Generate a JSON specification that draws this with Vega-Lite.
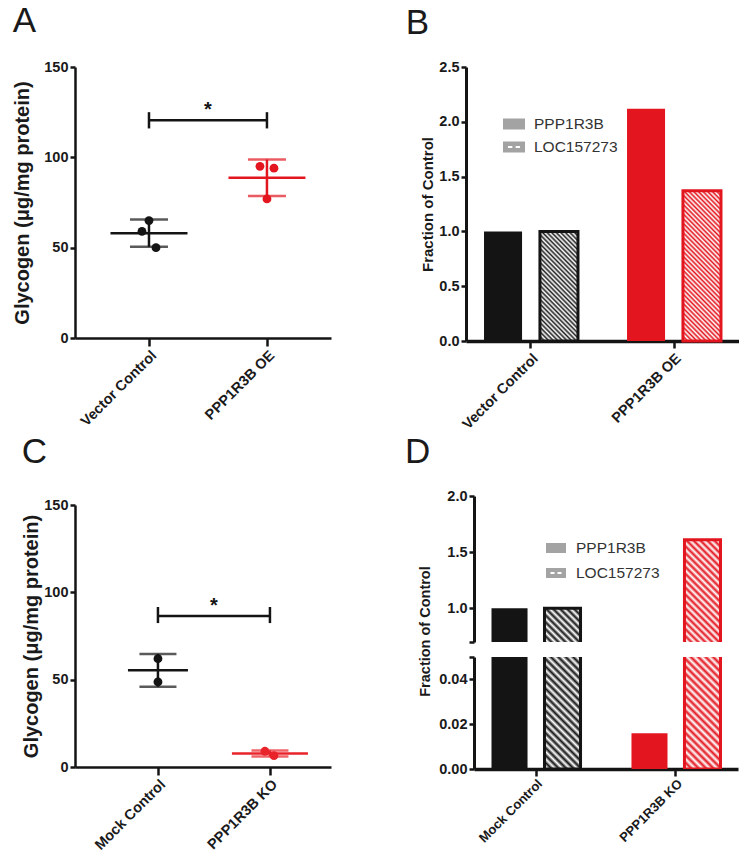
{
"$schema": "https://vega.github.io/schema/vega-lite/v6.json",
"background": "white",
"padding": {"left": 12, "top": 3, "right": 0, "bottom": 0},
"config": {
 "view": {"stroke": null},
 "font": "Liberation Sans",
 "axis": {"domainColor": "#141414", "tickColor": "#141414", "domainWidth": 2.5, "tickWidth": 2.5, "labelFont": "Liberation Sans", "labelFontSize": 14.5, "labelFontWeight": "bold", "labelColor": "#1a1a1a", "titleFont": "Liberation Sans", "titleFontWeight": "bold", "titleColor": "#1a1a1a", "grid": false},
 "title": {"font": "Liberation Sans", "fontSize": 35, "fontWeight": "normal", "anchor": "start", "color": "#1a1a1a", "frame": "bounds"},
 "legend": {"labelFont": "Liberation Sans", "labelFontSize": 15.5, "labelColor": "#333333"}
},
"resolve": {"scale": {"color": "independent", "fill": "independent", "stroke": "independent", "opacity": "independent", "xOffset": "independent"}},
"columns": 2,
"align": "none",
"bounds": "full",
"spacing": {"row": 3, "column": 74},
"concat": [
 {
  "width": 256, "height": 271,
  "title": {"text": "A", "offset": 20.5},
  "data": {"values": [
   {"cond": "Vector Control", "rep": 1, "value": 59},
   {"cond": "Vector Control", "rep": 2, "value": 65},
   {"cond": "Vector Control", "rep": 3, "value": 50},
   {"cond": "PPP1R3B OE", "rep": 1, "value": 95},
   {"cond": "PPP1R3B OE", "rep": 2, "value": 77},
   {"cond": "PPP1R3B OE", "rep": 3, "value": 94}
  ]},
  "layer": [
   {
    "mark": {"type": "errorbar", "extent": "stdev", "ticks": {"size": 38, "thickness": 2.5}, "rule": {"strokeWidth": 2.5}},
    "encoding": {
     "x": {"field": "cond", "type": "nominal", "title": null, "scale": {"type": "point", "domain": ["Vector Control", "PPP1R3B OE"], "padding": 0.585, "align": 0.536}, "axis": {"labelAngle": -45, "tickSize": 8, "labelPadding": 2}},
     "y": {"field": "value", "type": "quantitative", "title": "Glycogen (μg/mg protein)", "scale": {"domain": [0, 150]}, "axis": {"values": [0, 50, 100, 150], "tickSize": 5, "labelPadding": 2, "titlePadding": 11, "titleFontSize": 20}},
     "color": {"field": "cond", "type": "nominal", "scale": {"domain": ["Vector Control", "PPP1R3B OE"], "range": ["#141414", "#e3161f"]}, "legend": null}
    }
   },
   {
    "mark": {"type": "tick", "size": 77, "thickness": 2.5},
    "encoding": {
     "x": {"field": "cond", "type": "nominal", "title": null, "scale": {"type": "point", "domain": ["Vector Control", "PPP1R3B OE"], "padding": 0.585, "align": 0.536}},
     "y": {"aggregate": "mean", "field": "value", "type": "quantitative", "title": "Glycogen (μg/mg protein)", "scale": {"domain": [0, 150]}},
     "color": {"field": "cond", "type": "nominal", "scale": {"domain": ["Vector Control", "PPP1R3B OE"], "range": ["#141414", "#e3161f"]}, "legend": null}
    }
   },
   {
    "mark": {"type": "circle", "size": 78, "opacity": 1},
    "encoding": {
     "x": {"field": "cond", "type": "nominal", "title": null, "scale": {"type": "point", "domain": ["Vector Control", "PPP1R3B OE"], "padding": 0.585, "align": 0.536}},
     "xOffset": {"field": "rep", "type": "quantitative", "scale": {"domain": [1, 3], "range": [-7, 7]}},
     "y": {"field": "value", "type": "quantitative", "title": "Glycogen (μg/mg protein)", "scale": {"domain": [0, 150]}},
     "color": {"field": "cond", "type": "nominal", "scale": {"domain": ["Vector Control", "PPP1R3B OE"], "range": ["#141414", "#e3161f"]}, "legend": null}
    }
   },
   {
    "data": {"values": [{"a": "Vector Control", "b": "PPP1R3B OE", "value": 120.5}]},
    "mark": {"type": "rule", "strokeWidth": 2.5, "color": "#141414"},
    "encoding": {
     "x": {"field": "a", "type": "nominal", "title": null, "scale": {"type": "point", "domain": ["Vector Control", "PPP1R3B OE"], "padding": 0.585, "align": 0.536}},
     "x2": {"field": "b"},
     "y": {"field": "value", "type": "quantitative", "title": "Glycogen (μg/mg protein)", "scale": {"domain": [0, 150]}}
    }
   },
   {
    "data": {"values": [{"cond": "Vector Control", "lo": 116, "hi": 125}, {"cond": "PPP1R3B OE", "lo": 116, "hi": 125}]},
    "mark": {"type": "rule", "strokeWidth": 2.5, "color": "#141414"},
    "encoding": {
     "x": {"field": "cond", "type": "nominal", "title": null, "scale": {"type": "point", "domain": ["Vector Control", "PPP1R3B OE"], "padding": 0.585, "align": 0.536}},
     "y": {"field": "lo", "type": "quantitative", "title": "Glycogen (μg/mg protein)", "scale": {"domain": [0, 150]}},
     "y2": {"field": "hi"}
    }
   },
   {
    "data": {"values": [{"a": "Vector Control", "value": 126, "label": "*"}]},
    "mark": {"type": "text", "dx": 59, "fontSize": 20, "fontWeight": "bold", "color": "#141414", "baseline": "middle"},
    "encoding": {
     "x": {"field": "a", "type": "nominal", "title": null, "scale": {"type": "point", "domain": ["Vector Control", "PPP1R3B OE"], "padding": 0.585, "align": 0.536}},
     "y": {"field": "value", "type": "quantitative", "title": "Glycogen (μg/mg protein)", "scale": {"domain": [0, 150]}},
     "text": {"field": "label"}
    }
   }
  ]
 },
 {
  "width": 273, "height": 274,
  "title": {"text": "B", "offset": 18.5, "dx": -15},
  "data": {"values": [
   {"cond": "Vector Control", "gene": "PPP1R3B", "value": 1.0},
   {"cond": "Vector Control", "gene": "LOC157273", "value": 1.0},
   {"cond": "PPP1R3B OE", "gene": "PPP1R3B", "value": 2.12},
   {"cond": "PPP1R3B OE", "gene": "LOC157273", "value": 1.37}
  ]},
  "encoding": {
   "x": {"field": "cond", "type": "nominal", "title": null, "scale": {"domain": ["Vector Control", "PPP1R3B OE"], "paddingInner": 0.343, "paddingOuter": 0.126}, "axis": {"labelAngle": -45, "tickSize": 7, "domainWidth": 3.5, "labelPadding": 3}},
   "xOffset": {"field": "gene", "type": "nominal", "scale": {"domain": ["PPP1R3B", "LOC157273"], "paddingInner": 0.32, "paddingOuter": 0}},
   "y": {"field": "value", "type": "quantitative", "title": "Fraction of Control", "scale": {"domain": [0, 2.5]}, "axis": {"values": [0, 0.5, 1, 1.5, 2, 2.5], "format": ".1f", "tickSize": 5, "domainWidth": 3, "titleFontSize": 15, "titlePadding": 3}}
  },
  "layer": [
   {
    "transform": [{"filter": "datum.gene === 'PPP1R3B'"}],
    "mark": {"type": "bar"},
    "encoding": {
     "fill": {"field": "cond", "type": "nominal", "scale": {"domain": ["Vector Control", "PPP1R3B OE"], "range": ["#141414", "#e3161f"]}, "legend": null},
     "opacity": {"field": "gene", "type": "ordinal", "scale": {"domain": ["PPP1R3B", "LOC157273"], "range": [1, 1]}, "legend": {"title": null, "orient": "none", "legendX": 37, "legendY": 46, "symbolType": "M-1,-0.5H1V0.5H-1Z", "symbolSize": 484, "symbolStrokeWidth": 0, "symbolFillColor": "#a3a3a3", "rowPadding": 3, "labelOffset": 9, "encode": {"symbols": {"update": {"shape": {"signal": "datum.value === 'LOC157273' ? 'M-1,-0.5H1V0.5H-1Z M-0.55,-0.09V0.09H-0.15V-0.09Z M0.15,-0.09V0.09H0.55V-0.09Z' : 'M-1,-0.5H1V0.5H-1Z'"}, "fill": {"value": "#a3a3a3"}, "opacity": {"value": 1}}}}}}
    }
   },
   {
    "transform": [{"filter": "datum.gene === 'LOC157273' && datum.cond === 'Vector Control'"}],
    "mark": {"type": "bar", "stroke": "#141414", "strokeWidth": 3, "fill": {"gradient": "linear", "x1": 0, "y1": 1, "x2": 0.4232, "y2": -0.2028, "stops": [
     {"offset": 0, "color": "#222222"}, {"offset": 0.015625, "color": "#ffffff"}, {"offset": 0.03125, "color": "#222222"}, {"offset": 0.046875, "color": "#ffffff"}, {"offset": 0.0625, "color": "#222222"}, {"offset": 0.078125, "color": "#ffffff"}, {"offset": 0.09375, "color": "#222222"}, {"offset": 0.109375, "color": "#ffffff"}, {"offset": 0.125, "color": "#222222"}, {"offset": 0.140625, "color": "#ffffff"}, {"offset": 0.15625, "color": "#222222"}, {"offset": 0.171875, "color": "#ffffff"}, {"offset": 0.1875, "color": "#222222"}, {"offset": 0.203125, "color": "#ffffff"}, {"offset": 0.21875, "color": "#222222"}, {"offset": 0.234375, "color": "#ffffff"}, {"offset": 0.25, "color": "#222222"}, {"offset": 0.265625, "color": "#ffffff"}, {"offset": 0.28125, "color": "#222222"}, {"offset": 0.296875, "color": "#ffffff"}, {"offset": 0.3125, "color": "#222222"}, {"offset": 0.328125, "color": "#ffffff"}, {"offset": 0.34375, "color": "#222222"}, {"offset": 0.359375, "color": "#ffffff"}, {"offset": 0.375, "color": "#222222"}, {"offset": 0.390625, "color": "#ffffff"}, {"offset": 0.40625, "color": "#222222"}, {"offset": 0.421875, "color": "#ffffff"}, {"offset": 0.4375, "color": "#222222"}, {"offset": 0.453125, "color": "#ffffff"}, {"offset": 0.46875, "color": "#222222"}, {"offset": 0.484375, "color": "#ffffff"}, {"offset": 0.5, "color": "#222222"}, {"offset": 0.515625, "color": "#ffffff"}, {"offset": 0.53125, "color": "#222222"}, {"offset": 0.546875, "color": "#ffffff"}, {"offset": 0.5625, "color": "#222222"}, {"offset": 0.578125, "color": "#ffffff"}, {"offset": 0.59375, "color": "#222222"}, {"offset": 0.609375, "color": "#ffffff"}, {"offset": 0.625, "color": "#222222"}, {"offset": 0.640625, "color": "#ffffff"}, {"offset": 0.65625, "color": "#222222"}, {"offset": 0.671875, "color": "#ffffff"}, {"offset": 0.6875, "color": "#222222"}, {"offset": 0.703125, "color": "#ffffff"}, {"offset": 0.71875, "color": "#222222"}, {"offset": 0.734375, "color": "#ffffff"}, {"offset": 0.75, "color": "#222222"}, {"offset": 0.765625, "color": "#ffffff"}, {"offset": 0.78125, "color": "#222222"}, {"offset": 0.796875, "color": "#ffffff"}, {"offset": 0.8125, "color": "#222222"}, {"offset": 0.828125, "color": "#ffffff"}, {"offset": 0.84375, "color": "#222222"}, {"offset": 0.859375, "color": "#ffffff"}, {"offset": 0.875, "color": "#222222"}, {"offset": 0.890625, "color": "#ffffff"}, {"offset": 0.90625, "color": "#222222"}, {"offset": 0.921875, "color": "#ffffff"}, {"offset": 0.9375, "color": "#222222"}, {"offset": 0.953125, "color": "#ffffff"}, {"offset": 0.96875, "color": "#222222"}, {"offset": 0.984375, "color": "#ffffff"}, {"offset": 1, "color": "#222222"}
    ]}}
   },
   {
    "transform": [{"filter": "datum.gene === 'LOC157273' && datum.cond === 'PPP1R3B OE'"}],
    "mark": {"type": "bar", "stroke": "#e3161f", "strokeWidth": 3, "fill": {"gradient": "linear", "x1": 0, "y1": 1, "x2": 0.3027, "y2": -0.179, "stops": [
     {"offset": 0, "color": "#e3161f"}, {"offset": 0.0125, "color": "#ffffff"}, {"offset": 0.025, "color": "#e3161f"}, {"offset": 0.0375, "color": "#ffffff"}, {"offset": 0.05, "color": "#e3161f"}, {"offset": 0.0625, "color": "#ffffff"}, {"offset": 0.075, "color": "#e3161f"}, {"offset": 0.0875, "color": "#ffffff"}, {"offset": 0.1, "color": "#e3161f"}, {"offset": 0.1125, "color": "#ffffff"}, {"offset": 0.125, "color": "#e3161f"}, {"offset": 0.1375, "color": "#ffffff"}, {"offset": 0.15, "color": "#e3161f"}, {"offset": 0.1625, "color": "#ffffff"}, {"offset": 0.175, "color": "#e3161f"}, {"offset": 0.1875, "color": "#ffffff"}, {"offset": 0.2, "color": "#e3161f"}, {"offset": 0.2125, "color": "#ffffff"}, {"offset": 0.225, "color": "#e3161f"}, {"offset": 0.2375, "color": "#ffffff"}, {"offset": 0.25, "color": "#e3161f"}, {"offset": 0.2625, "color": "#ffffff"}, {"offset": 0.275, "color": "#e3161f"}, {"offset": 0.2875, "color": "#ffffff"}, {"offset": 0.3, "color": "#e3161f"}, {"offset": 0.3125, "color": "#ffffff"}, {"offset": 0.325, "color": "#e3161f"}, {"offset": 0.3375, "color": "#ffffff"}, {"offset": 0.35, "color": "#e3161f"}, {"offset": 0.3625, "color": "#ffffff"}, {"offset": 0.375, "color": "#e3161f"}, {"offset": 0.3875, "color": "#ffffff"}, {"offset": 0.4, "color": "#e3161f"}, {"offset": 0.4125, "color": "#ffffff"}, {"offset": 0.425, "color": "#e3161f"}, {"offset": 0.4375, "color": "#ffffff"}, {"offset": 0.45, "color": "#e3161f"}, {"offset": 0.4625, "color": "#ffffff"}, {"offset": 0.475, "color": "#e3161f"}, {"offset": 0.4875, "color": "#ffffff"}, {"offset": 0.5, "color": "#e3161f"}, {"offset": 0.5125, "color": "#ffffff"}, {"offset": 0.525, "color": "#e3161f"}, {"offset": 0.5375, "color": "#ffffff"}, {"offset": 0.55, "color": "#e3161f"}, {"offset": 0.5625, "color": "#ffffff"}, {"offset": 0.575, "color": "#e3161f"}, {"offset": 0.5875, "color": "#ffffff"}, {"offset": 0.6, "color": "#e3161f"}, {"offset": 0.6125, "color": "#ffffff"}, {"offset": 0.625, "color": "#e3161f"}, {"offset": 0.6375, "color": "#ffffff"}, {"offset": 0.65, "color": "#e3161f"}, {"offset": 0.6625, "color": "#ffffff"}, {"offset": 0.675, "color": "#e3161f"}, {"offset": 0.6875, "color": "#ffffff"}, {"offset": 0.7, "color": "#e3161f"}, {"offset": 0.7125, "color": "#ffffff"}, {"offset": 0.725, "color": "#e3161f"}, {"offset": 0.7375, "color": "#ffffff"}, {"offset": 0.75, "color": "#e3161f"}, {"offset": 0.7625, "color": "#ffffff"}, {"offset": 0.775, "color": "#e3161f"}, {"offset": 0.7875, "color": "#ffffff"}, {"offset": 0.8, "color": "#e3161f"}, {"offset": 0.8125, "color": "#ffffff"}, {"offset": 0.825, "color": "#e3161f"}, {"offset": 0.8375, "color": "#ffffff"}, {"offset": 0.85, "color": "#e3161f"}, {"offset": 0.8625, "color": "#ffffff"}, {"offset": 0.875, "color": "#e3161f"}, {"offset": 0.8875, "color": "#ffffff"}, {"offset": 0.9, "color": "#e3161f"}, {"offset": 0.9125, "color": "#ffffff"}, {"offset": 0.925, "color": "#e3161f"}, {"offset": 0.9375, "color": "#ffffff"}, {"offset": 0.95, "color": "#e3161f"}, {"offset": 0.9625, "color": "#ffffff"}, {"offset": 0.975, "color": "#e3161f"}, {"offset": 0.9875, "color": "#ffffff"}, {"offset": 1, "color": "#e3161f"}
    ]}}
   }
  ]
 },
 {
  "width": 256, "height": 262,
  "title": {"text": "C", "offset": 27},
  "data": {"values": [
   {"cond": "Mock Control", "rep": 1, "value": 62},
   {"cond": "Mock Control", "rep": 2, "value": 48.7},
   {"cond": "PPP1R3B KO", "rep": 1, "value": 9},
   {"cond": "PPP1R3B KO", "rep": 2, "value": 6.5}
  ]},
  "layer": [
   {
    "mark": {"type": "errorbar", "extent": "stdev", "ticks": {"size": 37, "thickness": 2.5}, "rule": {"strokeWidth": 2.5}},
    "encoding": {
     "x": {"field": "cond", "type": "nominal", "title": null, "scale": {"type": "point", "domain": ["Mock Control", "PPP1R3B KO"], "padding": 0.643, "align": 0.576}, "axis": {"labelAngle": -45, "tickSize": 8, "labelPadding": 2}},
     "y": {"field": "value", "type": "quantitative", "title": "Glycogen (μg/mg protein)", "scale": {"domain": [0, 150]}, "axis": {"values": [0, 50, 100, 150], "tickSize": 5, "labelPadding": 2, "titlePadding": 2, "titleFontSize": 20}},
     "color": {"field": "cond", "type": "nominal", "scale": {"domain": ["Mock Control", "PPP1R3B KO"], "range": ["#141414", "#e8232a"]}, "legend": null}
    }
   },
   {
    "transform": [{"filter": "datum.cond === 'Mock Control'"}],
    "mark": {"type": "tick", "size": 60, "thickness": 2.5},
    "encoding": {
     "x": {"field": "cond", "type": "nominal", "title": null, "scale": {"type": "point", "domain": ["Mock Control", "PPP1R3B KO"], "padding": 0.643, "align": 0.576}},
     "y": {"aggregate": "mean", "field": "value", "type": "quantitative", "title": "Glycogen (μg/mg protein)", "scale": {"domain": [0, 150]}},
     "color": {"field": "cond", "type": "nominal", "scale": {"domain": ["Mock Control", "PPP1R3B KO"], "range": ["#141414", "#e8232a"]}, "legend": null}
    }
   },
   {
    "transform": [{"filter": "datum.cond === 'PPP1R3B KO'"}],
    "mark": {"type": "tick", "size": 76, "thickness": 2.5},
    "encoding": {
     "x": {"field": "cond", "type": "nominal", "title": null, "scale": {"type": "point", "domain": ["Mock Control", "PPP1R3B KO"], "padding": 0.643, "align": 0.576}},
     "y": {"aggregate": "mean", "field": "value", "type": "quantitative", "title": "Glycogen (μg/mg protein)", "scale": {"domain": [0, 150]}},
     "color": {"field": "cond", "type": "nominal", "scale": {"domain": ["Mock Control", "PPP1R3B KO"], "range": ["#141414", "#e8232a"]}, "legend": null}
    }
   },
   {
    "transform": [{"filter": "datum.cond === 'Mock Control'"}],
    "mark": {"type": "circle", "size": 78, "opacity": 1},
    "encoding": {
     "x": {"field": "cond", "type": "nominal", "title": null, "scale": {"type": "point", "domain": ["Mock Control", "PPP1R3B KO"], "padding": 0.643, "align": 0.576}},
     "y": {"field": "value", "type": "quantitative", "title": "Glycogen (μg/mg protein)", "scale": {"domain": [0, 150]}},
     "color": {"field": "cond", "type": "nominal", "scale": {"domain": ["Mock Control", "PPP1R3B KO"], "range": ["#141414", "#e8232a"]}, "legend": null}
    }
   },
   {
    "transform": [{"filter": "datum.cond === 'PPP1R3B KO'"}],
    "mark": {"type": "circle", "size": 78, "opacity": 1},
    "encoding": {
     "x": {"field": "cond", "type": "nominal", "title": null, "scale": {"type": "point", "domain": ["Mock Control", "PPP1R3B KO"], "padding": 0.643, "align": 0.576}},
     "xOffset": {"field": "rep", "type": "quantitative", "scale": {"domain": [1, 2], "range": [-5, 4]}},
     "y": {"field": "value", "type": "quantitative", "title": "Glycogen (μg/mg protein)", "scale": {"domain": [0, 150]}},
     "color": {"field": "cond", "type": "nominal", "scale": {"domain": ["Mock Control", "PPP1R3B KO"], "range": ["#141414", "#e8232a"]}, "legend": null}
    }
   },
   {
    "data": {"values": [{"a": "Mock Control", "b": "PPP1R3B KO", "value": 86.5}]},
    "mark": {"type": "rule", "strokeWidth": 2.5, "color": "#141414"},
    "encoding": {
     "x": {"field": "a", "type": "nominal", "title": null, "scale": {"type": "point", "domain": ["Mock Control", "PPP1R3B KO"], "padding": 0.643, "align": 0.576}},
     "x2": {"field": "b"},
     "y": {"field": "value", "type": "quantitative", "title": "Glycogen (μg/mg protein)", "scale": {"domain": [0, 150]}}
    }
   },
   {
    "data": {"values": [{"cond": "Mock Control", "lo": 82.4, "hi": 91.6}, {"cond": "PPP1R3B KO", "lo": 82.4, "hi": 91.6}]},
    "mark": {"type": "rule", "strokeWidth": 2.5, "color": "#141414"},
    "encoding": {
     "x": {"field": "cond", "type": "nominal", "title": null, "scale": {"type": "point", "domain": ["Mock Control", "PPP1R3B KO"], "padding": 0.643, "align": 0.576}},
     "y": {"field": "lo", "type": "quantitative", "title": "Glycogen (μg/mg protein)", "scale": {"domain": [0, 150]}},
     "y2": {"field": "hi"}
    }
   },
   {
    "data": {"values": [{"a": "Mock Control", "value": 92, "label": "*"}]},
    "mark": {"type": "text", "dx": 56, "fontSize": 20, "fontWeight": "bold", "color": "#141414", "baseline": "middle"},
    "encoding": {
     "x": {"field": "a", "type": "nominal", "title": null, "scale": {"type": "point", "domain": ["Mock Control", "PPP1R3B KO"], "padding": 0.643, "align": 0.576}},
     "y": {"field": "value", "type": "quantitative", "title": "Glycogen (μg/mg protein)", "scale": {"domain": [0, 150]}},
     "text": {"field": "label"}
    }
   }
  ]
 },
 {
  "title": {"text": "D", "offset": 18, "dx": -12},
  "data": {"values": [
   {"cond": "Mock Control", "gene": "PPP1R3B", "value": 1.0},
   {"cond": "Mock Control", "gene": "LOC157273", "value": 1.0},
   {"cond": "PPP1R3B KO", "gene": "PPP1R3B", "value": 0.016},
   {"cond": "PPP1R3B KO", "gene": "LOC157273", "value": 1.61}
  ]},
  "spacing": 15,
  "bounds": "flush",
  "resolve": {"scale": {"x": "shared", "xOffset": "shared", "fill": "shared", "stroke": "shared", "opacity": "independent"}},
  "vconcat": [
   {
    "width": 264, "height": 146,
    "encoding": {
     "x": {"field": "cond", "type": "nominal", "title": null, "scale": {"domain": ["Mock Control", "PPP1R3B KO"], "paddingInner": 0.364, "paddingOuter": 0.125}, "axis": null},
     "xOffset": {"field": "gene", "type": "nominal", "scale": {"domain": ["PPP1R3B", "LOC157273"], "paddingInner": 0.32, "paddingOuter": 0}}
    },
    "resolve": {"scale": {"y": "independent"}},
    "layer": [
     {
      "transform": [{"filter": "datum.gene === 'PPP1R3B'"}],
      "mark": {"type": "bar", "clip": true},
      "encoding": {
       "y": {"field": "value", "type": "quantitative", "title": "Fraction of Control", "scale": {"domain": [0.7, 2.0], "zero": false, "nice": false, "clamp": true}, "axis": {"values": [0.7, 1, 1.5, 2], "labelExpr": "datum.value < 0.8 ? '' : format(datum.value, '.1f')", "tickSize": 5, "domainWidth": 3, "titleFontSize": 14.5, "titleY": 135, "titleX": -42}},
       "fill": {"field": "cond", "type": "nominal", "scale": {"domain": ["Mock Control", "PPP1R3B KO"], "range": ["#141414", "#e3161f"]}, "legend": null},
       "opacity": {"field": "gene", "type": "ordinal", "scale": {"domain": ["PPP1R3B", "LOC157273"], "range": [1, 1]}, "legend": {"title": null, "orient": "none", "legendX": 72, "legendY": 42, "symbolType": "M-1,-0.5H1V0.5H-1Z", "symbolSize": 400, "symbolStrokeWidth": 0, "symbolFillColor": "#a3a3a3", "rowPadding": 6, "labelOffset": 10, "encode": {"symbols": {"update": {"shape": {"signal": "datum.value === 'LOC157273' ? 'M-1,-0.5H1V0.5H-1Z M-0.55,-0.09V0.09H-0.15V-0.09Z M0.15,-0.09V0.09H0.55V-0.09Z' : 'M-1,-0.5H1V0.5H-1Z'"}, "fill": {"value": "#a3a3a3"}, "opacity": {"value": 1}}}}}}
      }
     },
     {
      "transform": [{"filter": "datum.gene === 'LOC157273' && datum.cond === 'Mock Control'"}],
      "mark": {"type": "bar", "clip": true, "fill": {"gradient": "linear", "x1": 0, "y1": 1, "x2": 1.032, "y2": 0.034, "stops": [
       {"offset": 0, "color": "#141414"}, {"offset": 0.05, "color": "#ffffff"}, {"offset": 0.1, "color": "#141414"}, {"offset": 0.15, "color": "#ffffff"}, {"offset": 0.2, "color": "#141414"}, {"offset": 0.25, "color": "#ffffff"}, {"offset": 0.3, "color": "#141414"}, {"offset": 0.35, "color": "#ffffff"}, {"offset": 0.4, "color": "#141414"}, {"offset": 0.45, "color": "#ffffff"}, {"offset": 0.5, "color": "#141414"}, {"offset": 0.55, "color": "#ffffff"}, {"offset": 0.6, "color": "#141414"}, {"offset": 0.65, "color": "#ffffff"}, {"offset": 0.7, "color": "#141414"}, {"offset": 0.75, "color": "#ffffff"}, {"offset": 0.8, "color": "#141414"}, {"offset": 0.85, "color": "#ffffff"}, {"offset": 0.9, "color": "#141414"}, {"offset": 0.95, "color": "#ffffff"}, {"offset": 1, "color": "#141414"}
      ]}},
      "encoding": {"y": {"field": "value", "type": "quantitative", "scale": {"domain": [0.7, 2.0], "zero": false, "nice": false, "clamp": true}, "axis": null}}
     },
     {
      "transform": [{"filter": "datum.gene === 'LOC157273' && datum.cond === 'PPP1R3B KO'"}],
      "mark": {"type": "bar", "clip": true, "fill": {"gradient": "linear", "x1": 0, "y1": 1, "x2": 0.4237, "y2": -0.203, "stops": [
       {"offset": 0, "color": "#e3161f"}, {"offset": 0.025, "color": "#ffffff"}, {"offset": 0.05, "color": "#e3161f"}, {"offset": 0.075, "color": "#ffffff"}, {"offset": 0.1, "color": "#e3161f"}, {"offset": 0.125, "color": "#ffffff"}, {"offset": 0.15, "color": "#e3161f"}, {"offset": 0.175, "color": "#ffffff"}, {"offset": 0.2, "color": "#e3161f"}, {"offset": 0.225, "color": "#ffffff"}, {"offset": 0.25, "color": "#e3161f"}, {"offset": 0.275, "color": "#ffffff"}, {"offset": 0.3, "color": "#e3161f"}, {"offset": 0.325, "color": "#ffffff"}, {"offset": 0.35, "color": "#e3161f"}, {"offset": 0.375, "color": "#ffffff"}, {"offset": 0.4, "color": "#e3161f"}, {"offset": 0.425, "color": "#ffffff"}, {"offset": 0.45, "color": "#e3161f"}, {"offset": 0.475, "color": "#ffffff"}, {"offset": 0.5, "color": "#e3161f"}, {"offset": 0.525, "color": "#ffffff"}, {"offset": 0.55, "color": "#e3161f"}, {"offset": 0.575, "color": "#ffffff"}, {"offset": 0.6, "color": "#e3161f"}, {"offset": 0.625, "color": "#ffffff"}, {"offset": 0.65, "color": "#e3161f"}, {"offset": 0.675, "color": "#ffffff"}, {"offset": 0.7, "color": "#e3161f"}, {"offset": 0.725, "color": "#ffffff"}, {"offset": 0.75, "color": "#e3161f"}, {"offset": 0.775, "color": "#ffffff"}, {"offset": 0.8, "color": "#e3161f"}, {"offset": 0.825, "color": "#ffffff"}, {"offset": 0.85, "color": "#e3161f"}, {"offset": 0.875, "color": "#ffffff"}, {"offset": 0.9, "color": "#e3161f"}, {"offset": 0.925, "color": "#ffffff"}, {"offset": 0.95, "color": "#e3161f"}, {"offset": 0.975, "color": "#ffffff"}, {"offset": 1, "color": "#e3161f"}
      ]}},
      "encoding": {"y": {"field": "value", "type": "quantitative", "scale": {"domain": [0.7, 2.0], "zero": false, "nice": false, "clamp": true}, "axis": null}}
     },
     {
      "transform": [{"filter": "datum.gene === 'LOC157273'"}],
      "mark": {"type": "bar", "clip": true, "filled": false, "strokeWidth": 3},
      "encoding": {
       "y": {"field": "value", "type": "quantitative", "scale": {"domain": [0.7, 2.0], "zero": false, "nice": false}, "axis": null},
       "stroke": {"field": "cond", "type": "nominal", "scale": {"domain": ["Mock Control", "PPP1R3B KO"], "range": ["#141414", "#e3161f"]}, "legend": null}
      }
     }
    ]
   },
   {
    "width": 264, "height": 112,
    "encoding": {
     "x": {"field": "cond", "type": "nominal", "title": null, "scale": {"domain": ["Mock Control", "PPP1R3B KO"], "paddingInner": 0.364, "paddingOuter": 0.125}, "axis": {"labelAngle": -45, "tickSize": 7, "domainWidth": 3.5, "labelPadding": 1, "labelFontSize": 13}},
     "xOffset": {"field": "gene", "type": "nominal", "scale": {"domain": ["PPP1R3B", "LOC157273"], "paddingInner": 0.32, "paddingOuter": 0}}
    },
    "resolve": {"scale": {"y": "independent"}},
    "layer": [
     {
      "transform": [{"filter": "datum.gene === 'PPP1R3B'"}],
      "mark": {"type": "bar", "clip": true},
      "encoding": {
       "y": {"field": "value", "type": "quantitative", "title": null, "scale": {"domain": [0, 0.05], "nice": false, "clamp": true}, "axis": {"values": [0, 0.02, 0.04, 0.05], "labelExpr": "datum.value > 0.045 ? '' : format(datum.value, '.2f')", "tickSize": 5, "domainWidth": 3}},
       "fill": {"field": "cond", "type": "nominal", "scale": {"domain": ["Mock Control", "PPP1R3B KO"], "range": ["#141414", "#e3161f"]}, "legend": null}
      }
     },
     {
      "transform": [{"filter": "datum.gene === 'LOC157273' && datum.cond === 'Mock Control'"}],
      "mark": {"type": "bar", "clip": true, "fill": {"gradient": "linear", "x1": 0, "y1": 1, "x2": 0.385, "y2": -0.1977, "stops": [
       {"offset": 0, "color": "#141414"}, {"offset": 0.025, "color": "#ffffff"}, {"offset": 0.05, "color": "#141414"}, {"offset": 0.075, "color": "#ffffff"}, {"offset": 0.1, "color": "#141414"}, {"offset": 0.125, "color": "#ffffff"}, {"offset": 0.15, "color": "#141414"}, {"offset": 0.175, "color": "#ffffff"}, {"offset": 0.2, "color": "#141414"}, {"offset": 0.225, "color": "#ffffff"}, {"offset": 0.25, "color": "#141414"}, {"offset": 0.275, "color": "#ffffff"}, {"offset": 0.3, "color": "#141414"}, {"offset": 0.325, "color": "#ffffff"}, {"offset": 0.35, "color": "#141414"}, {"offset": 0.375, "color": "#ffffff"}, {"offset": 0.4, "color": "#141414"}, {"offset": 0.425, "color": "#ffffff"}, {"offset": 0.45, "color": "#141414"}, {"offset": 0.475, "color": "#ffffff"}, {"offset": 0.5, "color": "#141414"}, {"offset": 0.525, "color": "#ffffff"}, {"offset": 0.55, "color": "#141414"}, {"offset": 0.575, "color": "#ffffff"}, {"offset": 0.6, "color": "#141414"}, {"offset": 0.625, "color": "#ffffff"}, {"offset": 0.65, "color": "#141414"}, {"offset": 0.675, "color": "#ffffff"}, {"offset": 0.7, "color": "#141414"}, {"offset": 0.725, "color": "#ffffff"}, {"offset": 0.75, "color": "#141414"}, {"offset": 0.775, "color": "#ffffff"}, {"offset": 0.8, "color": "#141414"}, {"offset": 0.825, "color": "#ffffff"}, {"offset": 0.85, "color": "#141414"}, {"offset": 0.875, "color": "#ffffff"}, {"offset": 0.9, "color": "#141414"}, {"offset": 0.925, "color": "#ffffff"}, {"offset": 0.95, "color": "#141414"}, {"offset": 0.975, "color": "#ffffff"}, {"offset": 1, "color": "#141414"}
      ]}},
      "encoding": {"y": {"field": "value", "type": "quantitative", "scale": {"domain": [0, 0.05], "nice": false, "clamp": true}, "axis": null}}
     },
     {
      "transform": [{"filter": "datum.gene === 'LOC157273' && datum.cond === 'PPP1R3B KO'"}],
      "mark": {"type": "bar", "clip": true, "fill": {"gradient": "linear", "x1": 0, "y1": 1, "x2": 0.385, "y2": -0.1977, "stops": [
       {"offset": 0, "color": "#e3161f"}, {"offset": 0.025, "color": "#ffffff"}, {"offset": 0.05, "color": "#e3161f"}, {"offset": 0.075, "color": "#ffffff"}, {"offset": 0.1, "color": "#e3161f"}, {"offset": 0.125, "color": "#ffffff"}, {"offset": 0.15, "color": "#e3161f"}, {"offset": 0.175, "color": "#ffffff"}, {"offset": 0.2, "color": "#e3161f"}, {"offset": 0.225, "color": "#ffffff"}, {"offset": 0.25, "color": "#e3161f"}, {"offset": 0.275, "color": "#ffffff"}, {"offset": 0.3, "color": "#e3161f"}, {"offset": 0.325, "color": "#ffffff"}, {"offset": 0.35, "color": "#e3161f"}, {"offset": 0.375, "color": "#ffffff"}, {"offset": 0.4, "color": "#e3161f"}, {"offset": 0.425, "color": "#ffffff"}, {"offset": 0.45, "color": "#e3161f"}, {"offset": 0.475, "color": "#ffffff"}, {"offset": 0.5, "color": "#e3161f"}, {"offset": 0.525, "color": "#ffffff"}, {"offset": 0.55, "color": "#e3161f"}, {"offset": 0.575, "color": "#ffffff"}, {"offset": 0.6, "color": "#e3161f"}, {"offset": 0.625, "color": "#ffffff"}, {"offset": 0.65, "color": "#e3161f"}, {"offset": 0.675, "color": "#ffffff"}, {"offset": 0.7, "color": "#e3161f"}, {"offset": 0.725, "color": "#ffffff"}, {"offset": 0.75, "color": "#e3161f"}, {"offset": 0.775, "color": "#ffffff"}, {"offset": 0.8, "color": "#e3161f"}, {"offset": 0.825, "color": "#ffffff"}, {"offset": 0.85, "color": "#e3161f"}, {"offset": 0.875, "color": "#ffffff"}, {"offset": 0.9, "color": "#e3161f"}, {"offset": 0.925, "color": "#ffffff"}, {"offset": 0.95, "color": "#e3161f"}, {"offset": 0.975, "color": "#ffffff"}, {"offset": 1, "color": "#e3161f"}
      ]}},
      "encoding": {"y": {"field": "value", "type": "quantitative", "scale": {"domain": [0, 0.05], "nice": false, "clamp": true}, "axis": null}}
     },
     {
      "transform": [{"filter": "datum.gene === 'LOC157273'"}],
      "mark": {"type": "bar", "clip": true, "filled": false, "strokeWidth": 3},
      "encoding": {
       "y": {"field": "value", "type": "quantitative", "scale": {"domain": [0, 0.05], "nice": false}, "axis": null},
       "stroke": {"field": "cond", "type": "nominal", "scale": {"domain": ["Mock Control", "PPP1R3B KO"], "range": ["#141414", "#e3161f"]}, "legend": null}
      }
     }
    ]
   }
  ]
 }
]
}
